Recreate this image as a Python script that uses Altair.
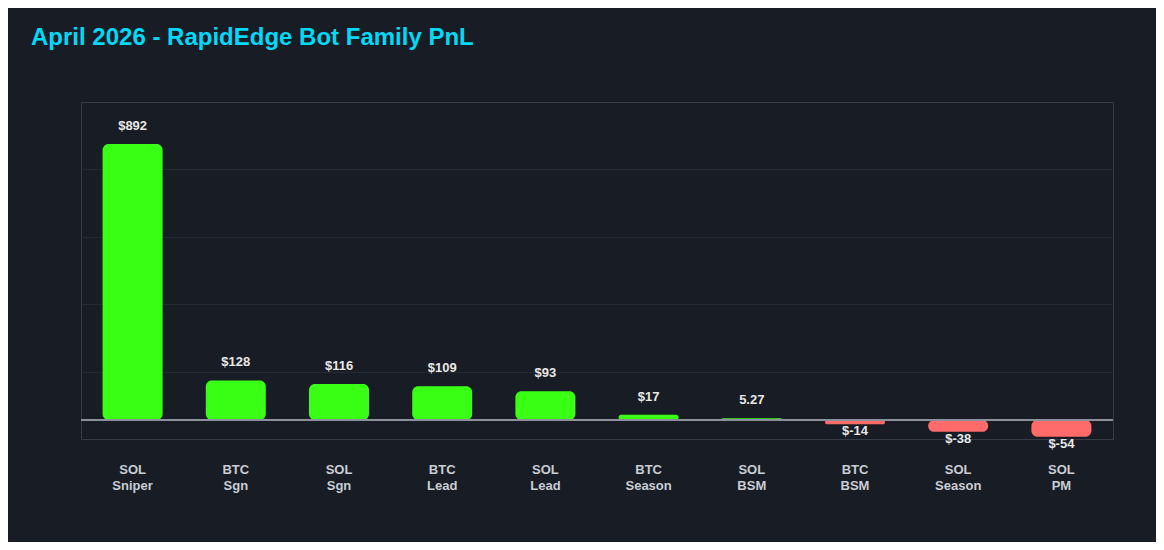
import altair as alt
import pandas as pd

categories = ["SOL Sniper", "BTC Sgn", "SOL Sgn", "BTC Lead", "SOL Lead",
              "BTC Season", "SOL BSM", "BTC BSM", "SOL Season", "SOL PM"]
pnl = [892, 128, 116, 109, 93, 17, 5.27, -14, -38, -54]
value_labels = ["$892", "$128", "$116", "$109", "$93", "$17", "5.27", "$-14", "$-38", "$-54"]

df = pd.DataFrame({"bot": categories, "pnl": pnl, "label": value_labels})

FONT = "Liberation Sans"
y_domain = [-61.4, 1027.8]
span = y_domain[1] - y_domain[0]
grid_vals = [y_domain[0] + k * span / 5 for k in range(1, 5)]

x_enc = alt.X("bot:N", sort=None, title=None,
              scale=alt.Scale(paddingInner=0, paddingOuter=0),
              axis=alt.Axis(labelExpr="split(datum.label, ' ')", labelAngle=0,
                            labelFont=FONT, labelFontSize=13, labelFontWeight="bold",
                            labelColor="#c9cdd4", labelLineHeight=16, labelPadding=24,
                            ticks=False, domain=False, grid=False))
y_scale = alt.Scale(domain=y_domain, nice=False, zero=False)
y_enc = alt.Y("pnl:Q", title=None, scale=y_scale,
              axis=alt.Axis(values=grid_vals, labels=False, ticks=False, domain=False,
                            grid=True, gridColor="#242932", gridWidth=1))

base = alt.Chart(df)

bars = base.mark_bar(size=60, cornerRadius=6).encode(
    x=x_enc,
    y=y_enc,
    y2=alt.datum(0),
    color=alt.condition("datum.pnl >= 0", alt.value("#39ff14"), alt.value("#ff6b6b")),
)

zero = alt.Chart(df).mark_rule(color="#8b919b", strokeWidth=1.5).encode(
    y=alt.datum(0, scale=y_scale)
)

pos_text = base.transform_filter("datum.pnl >= 0").mark_text(
    font=FONT, fontSize=13, fontWeight="bold", color="#e8e8e8",
    baseline="middle", dy=-18
).encode(x=alt.X("bot:N", sort=None), y=alt.Y("pnl:Q", scale=y_scale), text="label:N")

neg_text = base.transform_filter("datum.pnl < 0").mark_text(
    font=FONT, fontSize=13, fontWeight="bold", color="#e8e8e8",
    baseline="middle", dy=7
).encode(x=alt.X("bot:N", sort=None), y=alt.Y("pnl:Q", scale=y_scale), text="label:N")

chart = alt.layer(bars, zero, pos_text, neg_text).properties(
    width=1032,
    height=337,
    padding={"left": 73, "top": 94, "right": 43, "bottom": 103},
    autosize=alt.AutoSizeParams(type="none"),
    background="#181c24",
    title=alt.TitleParams(
        "April 2026 - RapidEdge Bot Family PnL",
        anchor="start", frame="group", dx=-50, offset=52,
        font=FONT, fontSize=24, fontWeight="bold", color="#00d9f7",
    ),
).configure_view(stroke="#363b45", strokeWidth=1)

chart.save("out.html", embed_options={"renderer": "svg", "actions": False})
